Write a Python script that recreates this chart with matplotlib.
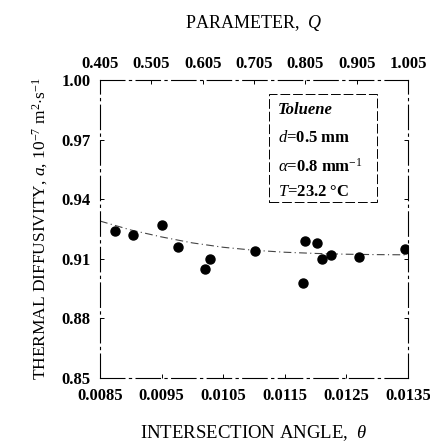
"""
Thermal diffusivity of toluene vs intersection angle
"""

import numpy as np
from matplotlib import pyplot as plt
from matplotlib.patches import Rectangle

# --------------------------------------------------------------------------------------------------
# Data
# --------------------------------------------------------------------------------------------------

theta = [0.00875, 0.00904, 0.00951, 0.00977, 0.01020, 0.01029, 0.01102,
         0.01179, 0.01183, 0.01203, 0.01211, 0.01225, 0.01271, 0.01345]
diffusivity = [0.924, 0.922, 0.927, 0.916, 0.905, 0.910, 0.914,
               0.898, 0.919, 0.918, 0.910, 0.912, 0.911, 0.915]

fit_theta = [0.0085, 0.0090, 0.0095, 0.0100, 0.0105, 0.0110, 0.0115,
             0.0120, 0.0125, 0.0130, 0.0135]
fit_diff = [0.929, 0.9245, 0.921, 0.918, 0.9158, 0.9143, 0.9133,
            0.9127, 0.9123, 0.9121, 0.912]

x_ticks = [0.0085, 0.0095, 0.0105, 0.0115, 0.0125, 0.0135]
y_ticks = [0.85, 0.88, 0.91, 0.94, 0.97, 1.00]
q_ticks = [0.405, 0.505, 0.605, 0.705, 0.805, 0.905, 1.005]

# --------------------------------------------------------------------------------------------------
# Fonts
# --------------------------------------------------------------------------------------------------

plt.rcParams['font.family'] = 'Liberation Serif'
plt.rcParams['mathtext.fontset'] = 'custom'
plt.rcParams['mathtext.rm'] = 'Liberation Serif'
plt.rcParams['mathtext.it'] = 'Liberation Serif:italic'
plt.rcParams['mathtext.bf'] = 'Liberation Serif:bold'

# --------------------------------------------------------------------------------------------------
# Figure
# --------------------------------------------------------------------------------------------------

fig = plt.figure(figsize=(4.30, 4.45), dpi=100)
ax = fig.add_axes([0.2326, 0.1506, 0.7162, 0.6696])

ax.plot(fit_theta, fit_diff, color='#444444', lw=0.8, ls=(0, (7, 3, 1, 3)))
ax.plot(theta, diffusivity, 'o', color='black', markersize=6.5)

ax.set_xlim(0.0085, 0.0135)
ax.set_ylim(0.85, 1.00)
ax.set_xticks(x_ticks)
ax.set_xticklabels([f'{v:.4f}' for v in x_ticks], fontweight='bold', fontsize=12)
ax.set_yticks(y_ticks)
ax.set_yticklabels([f'{v:.2f}' for v in y_ticks], fontweight='bold', fontsize=12)
ax.tick_params(direction='in', length=3, width=0.7, right=True, pad=7)

for s in ax.spines.values():
    s.set_linewidth(0.8)
    s.set_linestyle((0, (22, 4, 2, 4)))

# Top axis: parameter Q
ax2 = ax.twiny()
ax2.set_xlim(q_ticks[0], q_ticks[-1])
ax2.set_xticks(q_ticks)
ax2.set_xticklabels([f'{v:.3f}' for v in q_ticks], fontweight='bold', fontsize=12)
ax2.tick_params(direction='in', length=3, width=0.7, pad=6)
for s in ax2.spines.values():
    s.set_visible(False)

ax.set_xlabel(r'INTERSECTION ANGLE,  $\theta$', fontsize=13.5, labelpad=14)
ax2.set_xlabel(r'PARAMETER,  $\mathit{Q}$', fontsize=13, labelpad=20)
ax.set_ylabel(r'THERMAL DIFFUSIVITY, $\mathit{a}$, 10$^{-7}$ m$^{2}$$\cdot$s$^{-1}$',
              fontsize=12.5, labelpad=8)

# Conditions box
box = Rectangle((0.549, 0.591), 0.350, 0.362, transform=ax.transAxes,
                fill=False, lw=0.7, ls=(0, (10, 3)))
ax.add_patch(box)

tx = 0.577
ax.text(tx, 0.899, 'Toluene', transform=ax.transAxes, fontsize=12,
        fontweight='bold', fontstyle='italic', va='center')
ax.text(tx, 0.805, r'$\mathit{d}$=0.5 mm', transform=ax.transAxes, fontsize=12,
        fontweight='bold', va='center')
ax.text(tx, 0.710, r'$\alpha$=0.8 mm$^{-1}$', transform=ax.transAxes, fontsize=12,
        fontweight='bold', va='center')
ax.text(tx, 0.623, r'$\mathit{T}$=23.2 °C', transform=ax.transAxes, fontsize=12,
        fontweight='bold', va='center')

plt.savefig('out.png', dpi=100)
